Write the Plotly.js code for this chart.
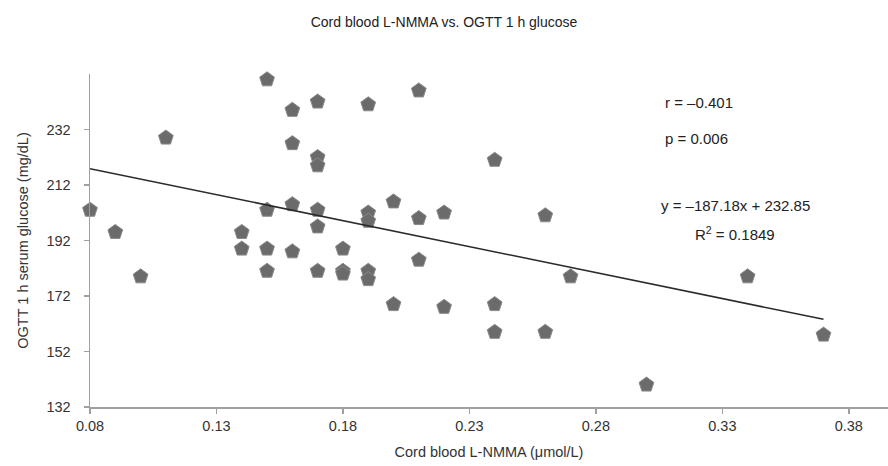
<!DOCTYPE html>
<html>
<head>
<meta charset="utf-8">
<script src="https://cdn.plot.ly/plotly-3.0.1.min.js"></script>
<style>html,body{margin:0;padding:0;background:#fff;}#chart{width:888px;height:466px;}</style>
</head>
<body>
<div id="chart"></div>
<script>
// Cord blood L-NMMA (µmol/L)
const lnmma = [
  0.08, 0.09, 0.10, 0.11,
  0.14, 0.14,
  0.15, 0.15, 0.15, 0.15,
  0.16, 0.16, 0.16, 0.16,
  0.17, 0.17, 0.17, 0.17, 0.17, 0.17,
  0.18, 0.18, 0.18,
  0.19, 0.19, 0.19, 0.19, 0.19,
  0.20, 0.20,
  0.21, 0.21, 0.21,
  0.22, 0.22,
  0.24, 0.24, 0.24,
  0.26, 0.26,
  0.27, 0.30, 0.34, 0.37
];
// OGTT 1 h serum glucose (mg/dL)
const glucose = [
  203, 195, 179, 229,
  195, 189,
  250, 203, 189, 181,
  239, 227, 205, 188,
  242, 222, 219, 203, 197, 181,
  189, 181, 180,
  241, 202, 199, 181, 178,
  206, 169,
  246, 200, 185,
  202, 168,
  221, 169, 159,
  201, 159,
  179, 140, 179, 158
];
// Regression line y = -187.18x + 232.85
const slope = -187.18;
const intercept = 232.85;
const fitX = [0.08, 0.37];
const fitY = fitX.map(x => slope * x + intercept);

const yTicks = [132, 152, 172, 192, 212, 232];
const xTicks = [0.08, 0.13, 0.18, 0.23, 0.28, 0.33, 0.38];

const font = "Liberation Sans, Arial, Helvetica, sans-serif";

const traces = [
  {
    x: lnmma, y: glucose, type: "scatter", mode: "markers", cliponaxis: false,
    marker: {symbol: "pentagon", size: 15.5, color: "#6b6b6b",
             line: {color: "#8a8a8a", width: 1}},
    hoverinfo: "x+y", showlegend: false
  },
  {
    x: fitX, y: fitY, type: "scatter", mode: "lines",
    line: {color: "#2a2a2a", width: 1.6},
    hoverinfo: "skip", showlegend: false
  }
];

const layout = {
  width: 888, height: 466,
  margin: {l: 90, r: 0, t: 74, b: 59},
  paper_bgcolor: "#fff", plot_bgcolor: "#fff",
  font: {family: font, color: "#333", size: 14},
  title: {text: "Cord blood L-NMMA vs. OGTT 1 h glucose", x: 0.5, xanchor: "center",
          y: 0.953, yanchor: "middle", font: {family: font, size: 14, color: "#222"}},
  xaxis: {
    range: [0.08, 0.3955], tickvals: xTicks, ticktext: xTicks.map(v => v.toFixed(2)),
    showgrid: false, zeroline: false, showline: true, linecolor: "#a0a0a0", linewidth: 1.5,
    ticks: "outside", ticklen: 5, tickcolor: "#a0a0a0", tickwidth: 1.5,
    tickfont: {family: font, size: 14.5, color: "#333"},
    title: {text: "Cord blood L-NMMA (\u03bcmol/L)", standoff: 14, font: {family: font, size: 14.5, color: "#333"}}
  },
  yaxis: {
    range: [132, 252], tickvals: yTicks, ticktext: yTicks.map(String),
    showgrid: false, zeroline: false, showline: true, linecolor: "#a0a0a0", linewidth: 1.5,
    ticks: "outside", ticklen: 5, tickcolor: "#a0a0a0", tickwidth: 1.5,
    ticklabelstandoff: 10,
    tickfont: {family: font, size: 14.5, color: "#333"},
    title: {text: "OGTT 1 h serum glucose (mg/dL)", standoff: 14, font: {family: font, size: 14.5, color: "#333"}}
  },
  annotations: [
    {xref: "paper", yref: "paper", x: 0.718, y: 0.913, xanchor: "left", yanchor: "middle",
     text: "r = \u20130.401", showarrow: false, font: {family: font, size: 15, color: "#222"}},
    {xref: "paper", yref: "paper", x: 0.718, y: 0.805, xanchor: "left", yanchor: "middle",
     text: "p = 0.006", showarrow: false, font: {family: font, size: 15, color: "#222"}},
    {xref: "paper", yref: "paper", x: 0.8095, y: 0.604, xanchor: "center", yanchor: "middle",
     text: "y = \u2013187.18x + 232.85", showarrow: false, font: {family: font, size: 15, color: "#222"}},
    {xref: "paper", yref: "paper", x: 0.808, y: 0.52, xanchor: "center", yanchor: "middle",
     text: "R<sup>2</sup> = 0.1849", showarrow: false, font: {family: font, size: 15, color: "#222"}}
  ]
};

Plotly.newPlot("chart", traces, layout, {displayModeBar: false, staticPlot: true});
</script>
</body>
</html>
